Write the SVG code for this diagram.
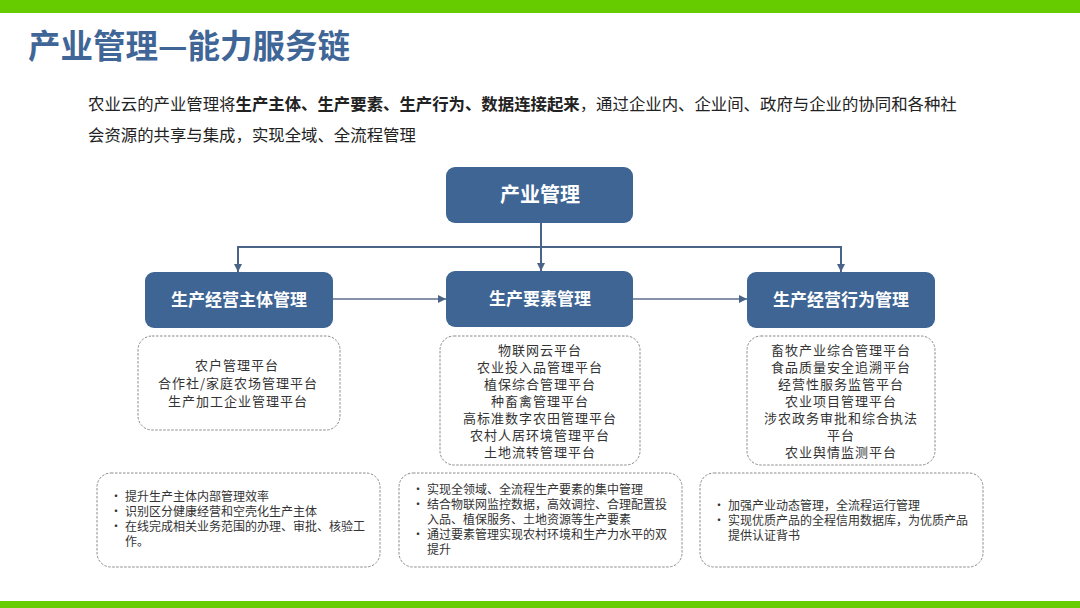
<svg xmlns="http://www.w3.org/2000/svg" width="1080" height="608" viewBox="0 0 1080 608">
<defs>
<style>
.bar{fill:#66CC00}
.title{font-family:"Noto Sans CJK SC","Liberation Sans",sans-serif;font-weight:bold;font-size:32.5px;fill:#3F6696}
.para{font-family:"Noto Sans CJK SC","Liberation Sans",sans-serif;font-size:16.4px;fill:#222}
.node rect{fill:#3E6594}
.ntext{font-family:"Noto Sans CJK SC","Liberation Sans",sans-serif;font-weight:bold;font-size:17px;fill:#fff;text-anchor:middle}
.dash{fill:#fff;stroke:#8a8a8a;stroke-width:1;stroke-dasharray:2.5 1.5}
.list{font-family:"Noto Sans CJK SC","Liberation Sans",sans-serif;font-size:13px;letter-spacing:1px;fill:#333;text-anchor:middle}
.bul{font-family:"Noto Sans CJK SC","Liberation Sans",sans-serif;font-size:12px;fill:#333}
.conn{fill:none;stroke:#4A6488;stroke-width:2}
.conn2{fill:none;stroke:#5C6E8C;stroke-width:1.5}
</style>
<marker id="ah" viewBox="0 0 10 10" refX="10" refY="5" markerWidth="8" markerHeight="8" markerUnits="userSpaceOnUse" orient="auto">
<path d="M0 0 L10 5 L0 10 Z" fill="#4A6488"/>
</marker>
</defs>
<rect width="1080" height="608" fill="#fff"/>
<rect class="bar" x="0" y="0" width="1080" height="13"/>
<rect class="bar" x="0" y="601" width="1080" height="7"/>
<text class="title" x="28" y="58">产业管理—能力服务链</text>
<text class="para" x="88" y="110">农业云的产业管理将<tspan font-weight="bold">生产主体、生产要素、生产行为、数据连接起来</tspan>，通过企业内、企业间、政府与企业的协同和各种社<tspan x="88" y="141">会资源的共享与集成，实现全域、全流程管理</tspan></text>

<g id="connectors">
<path class="conn" d="M541 223 V271" marker-end="url(#ah)"/>
<path class="conn" d="M238 247 H841"/>
<path class="conn" d="M238 246 V272" marker-end="url(#ah)"/>
<path class="conn" d="M841 246 V272" marker-end="url(#ah)"/>
<path class="conn2" d="M333 299 H446" marker-end="url(#ah)"/>
<path class="conn2" d="M633 299 H747" marker-end="url(#ah)"/>
</g>

<g id="n-top" class="node">
<rect x="446" y="167" width="187" height="56" rx="9"/>
<text class="ntext" x="540" y="202" style="font-size:20px">产业管理</text>
</g>
<g id="n-left" class="node">
<rect x="145" y="272" width="188" height="56" rx="9"/>
<text class="ntext" x="239" y="306">生产经营主体管理</text>
</g>
<g id="n-mid" class="node">
<rect x="446" y="271" width="187" height="56" rx="9"/>
<text class="ntext" x="540" y="305">生产要素管理</text>
</g>
<g id="n-right" class="node">
<rect x="747" y="272" width="188" height="56" rx="9"/>
<text class="ntext" x="841" y="306">生产经营行为管理</text>
</g>

<g id="list-left">
<rect class="dash" x="138" y="336" width="202" height="94" rx="14"/>
<text class="list" y="370"><tspan x="237">农户管理平台</tspan><tspan x="238" dy="18">合作社/家庭农场管理平台</tspan><tspan x="238" dy="17.5">生产加工企业管理平台</tspan></text>
</g>
<g id="list-mid">
<rect class="dash" x="440" y="336" width="200" height="129" rx="14"/>
<text class="list" y="355"><tspan x="540">物联网云平台</tspan><tspan x="540" dy="17">农业投入品管理平台</tspan><tspan x="540" dy="17">植保综合管理平台</tspan><tspan x="540" dy="17">种畜禽管理平台</tspan><tspan x="540" dy="17">高标准数字农田管理平台</tspan><tspan x="540" dy="17">农村人居环境管理平台</tspan><tspan x="540" dy="17">土地流转管理平台</tspan></text>
</g>
<g id="list-right">
<rect class="dash" x="747" y="336" width="188" height="129" rx="14"/>
<text class="list" y="355"><tspan x="841">畜牧产业综合管理平台</tspan><tspan x="841" dy="17">食品质量安全追溯平台</tspan><tspan x="841" dy="17">经营性服务监管平台</tspan><tspan x="841" dy="17">农业项目管理平台</tspan><tspan x="841" dy="17">涉农政务审批和综合执法</tspan><tspan x="841" dy="17">平台</tspan><tspan x="841" dy="17">农业舆情监测平台</tspan></text>
</g>

<g id="desc-left">
<rect class="dash" x="97" y="473" width="283" height="94" rx="14"/>
<text class="bul" y="501"><tspan x="110">•</tspan><tspan x="125">提升生产主体内部管理效率</tspan><tspan x="110" dy="15">•</tspan><tspan x="125">识别区分健康经营和空壳化生产主体</tspan><tspan x="110" dy="15">•</tspan><tspan x="125">在线完成相关业务范围的办理、审批、核验工</tspan><tspan x="125" dy="15">作。</tspan></text>
</g>
<g id="desc-mid">
<rect class="dash" x="399" y="473" width="283" height="94" rx="14"/>
<text class="bul" y="494"><tspan x="412">•</tspan><tspan x="427">实现全领域、全流程生产要素的集中管理</tspan><tspan x="412" dy="15">•</tspan><tspan x="427">结合物联网监控数据，高效调控、合理配置投</tspan><tspan x="427" dy="15">入品、植保服务、土地资源等生产要素</tspan><tspan x="412" dy="15">•</tspan><tspan x="427">通过要素管理实现农村环境和生产力水平的双</tspan><tspan x="427" dy="15">提升</tspan></text>
</g>
<g id="desc-right">
<rect class="dash" x="700" y="473" width="283" height="94" rx="14"/>
<text class="bul" y="510"><tspan x="713">•</tspan><tspan x="728">加强产业动态管理，全流程运行管理</tspan><tspan x="713" dy="15">•</tspan><tspan x="728">实现优质产品的全程信用数据库，为优质产品</tspan><tspan x="728" dy="15">提供认证背书</tspan></text>
</g>
</svg>
